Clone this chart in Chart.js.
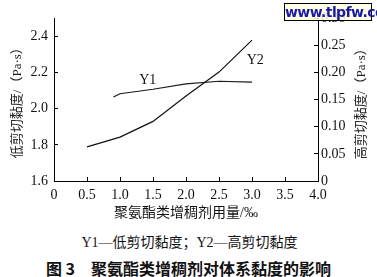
<!DOCTYPE html>
<html>
<head>
<meta charset="utf-8">
<script src="https://cdn.jsdelivr.net/npm/chart.js@4"></script>
<style>
    body { margin: 0; background: #fff; }
    #wrap { position: relative; width: 377px; height: 277px; overflow: hidden; }
    #chart { position: absolute; left: 0; top: 0; }
    .note {
        position: absolute; left: 0; width: 377px; text-align: center;
        font-family: "Liberation Serif", "Noto Sans CJK SC", serif;
        color: #111; white-space: nowrap;
    }
    #legend-note { top: 231px; font-size: 14px; left: 1px; }
    #fig-title { top: 256px; font-size: 16px; font-weight: bold; font-family: "Noto Sans CJK SC", sans-serif; }
    #mark {
        position: absolute; left: 284px; top: 3px; width: 86px; height: 16px;
        border: 1px solid #000; background: rgba(255, 255, 225, 0.85);
        font: bold 14px "DejaVu Sans", sans-serif; color: #1a1aa8;
        line-height: 16px; text-align: center; letter-spacing: -0.6px;
    }
</style>
</head>
<body>
<div id="wrap">
    <canvas id="chart" width="377" height="225"></canvas>
    <div class="note" id="legend-note">Y1—低剪切黏度；Y2—高剪切黏度</div>
    <div class="note" id="fig-title">图 3　聚氨酯类增稠剂对体系黏度的影响</div>
    <div id="mark">www.tlpfw.com</div>
</div>
<script>
// Dosage of polyurethane thickener (‰)
const dosageLow = [0.9, 1.0, 1.5, 2.0, 2.5, 3.0];
const dosageHigh = [0.5, 1.0, 1.5, 2.0, 2.5, 3.0];
// Y1: low shear viscosity (left axis), Y2: high shear viscosity (right axis)
const lowShear = [2.065, 2.083, 2.108, 2.138, 2.152, 2.147];
const highShear = [0.063, 0.081, 0.110, 0.157, 0.201, 0.260];
const seriesNames = ['Y1', 'Y2'];
const rightTitle = '高剪切黏度/（Pa·s）';

const serif = '"Liberation Serif", "Noto Sans CJK SC", serif';

// curve names next to each line, and the right axis title read bottom to top
const extraText = {
    id: 'extraText',
    afterDatasetsDraw(chart) {
        const c = chart.ctx;
        const xs = chart.scales.x;
        const area = chart.chartArea;
        c.save();
        c.font = '14px ' + serif;
        c.fillStyle = '#111';
        c.textAlign = 'center';
        c.textBaseline = 'middle';
        c.fillText(seriesNames[0], xs.getPixelForValue(1.42), chart.scales.y.getPixelForValue(2.157));
        c.fillText(seriesNames[1], xs.getPixelForValue(3.05), chart.scales.y1.getPixelForValue(0.223));

        c.font = '13px ' + serif;
        c.fillStyle = '#222';
        c.translate(chart.scales.y1.right - 15, (area.top + area.bottom) / 2 + 1);
        c.rotate(-Math.PI / 2);
        c.fillText(rightTitle, 0, 0);
        c.restore();
    }
};

const axisGrid = { drawOnChartArea: false, color: '#000', lineWidth: 1, tickLength: -4 };
const axisBorder = { color: '#000', width: 1 };

new Chart(document.getElementById('chart'), {
    type: 'line',
    data: {
        datasets: [{
            label: seriesNames[0],
            data: dosageLow.map((x, i) => ({ x: x, y: lowShear[i] })),
            yAxisID: 'y',
            borderColor: '#1a1a1a',
            borderWidth: 1.2,
            pointRadius: 0,
            tension: 0
        }, {
            label: seriesNames[1],
            data: dosageHigh.map((x, i) => ({ x: x, y: highShear[i] })),
            yAxisID: 'y1',
            borderColor: '#111',
            borderWidth: 1.2,
            pointRadius: 0,
            tension: 0
        }]
    },
    options: {
        responsive: false,
        animation: false,
        devicePixelRatio: 1,
        layout: { padding: { top: 17, left: 0, right: 0, bottom: 0 } },
        plugins: { legend: { display: false }, tooltip: { enabled: false } },
        scales: {
            x: {
                type: 'linear',
                min: 0, max: 4,
                grid: axisGrid,
                border: axisBorder,
                ticks: {
                    stepSize: 0.5,
                    maxRotation: 0,
                    padding: 10,
                    color: '#111',
                    font: { family: serif, size: 14 },
                    callback: v => v === 0 ? '0' : v.toFixed(1)
                },
                title: {
                    display: true,
                    text: '聚氨酯类增稠剂用量/‰',
                    color: '#111',
                    font: { family: serif, size: 14 },
                    padding: { top: 0, bottom: 3 }
                },
                afterFit: s => { s.height = 44; }
            },
            y: {
                position: 'left',
                min: 1.6, max: 2.5,
                grid: axisGrid,
                border: axisBorder,
                ticks: {
                    stepSize: 0.2,
                    includeBounds: false,
                    padding: 10,
                    color: '#111',
                    font: { family: serif, size: 14 },
                    callback: v => v.toFixed(1)
                },
                title: {
                    display: true,
                    text: '低剪切黏度/（Pa·s）',
                    color: '#222',
                    font: { family: serif, size: 13 },
                    padding: { top: 10, bottom: 0 }
                },
                afterFit: s => { s.width = 54; }
            },
            y1: {
                position: 'right',
                min: 0, max: 0.3,
                grid: axisGrid,
                border: axisBorder,
                ticks: {
                    stepSize: 0.05,
                    padding: 7,
                    color: '#111',
                    font: { family: serif, size: 14 },
                    callback: v => v === 0 ? '0' : v.toFixed(2)
                },
                afterFit: s => { s.width = 59; }
            }
        }
    },
    plugins: [extraText]
});
</script>
</body>
</html>
